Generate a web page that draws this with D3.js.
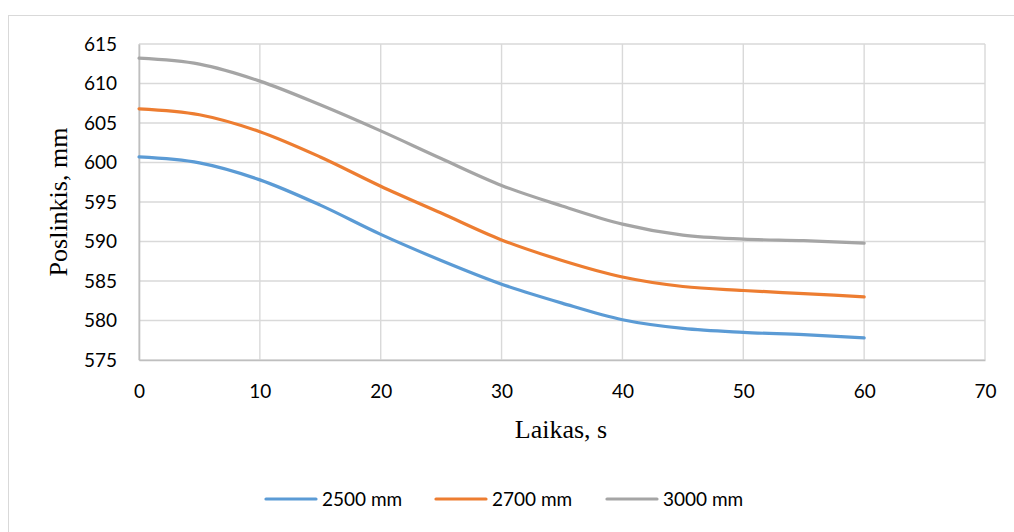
<!DOCTYPE html>
<html>
<head>
<meta charset="utf-8">
<script src="https://cdn.jsdelivr.net/npm/d3@7"></script>
<style>
  html, body { margin: 0; padding: 0; background: #fff; }
  svg { display: block; }
</style>
</head>
<body>
<svg id="chart" width="1014" height="532"></svg>
<script>
// Displacement over time for three beam lengths
const times = [0, 5, 10, 15, 20, 25, 30, 35, 40, 45, 50, 55, 60];
const s2500 = [600.7, 599.95, 597.8, 594.6, 590.9, 587.6, 584.6, 582.2, 580.1, 579.0, 578.5, 578.2, 577.8];
const s2700 = [606.8, 606.05, 603.9, 600.7, 597.0, 593.6, 590.2, 587.6, 585.5, 584.3, 583.8, 583.4, 583.0];
const s3000 = [613.2, 612.45, 610.3, 607.3, 604.0, 600.5, 597.1, 594.5, 592.2, 590.8, 590.3, 590.1, 589.8];
const seriesNames = ["2500 mm", "2700 mm", "3000 mm"];
const seriesColors = ["#5b9bd5", "#ed7d31", "#a5a5a5"];
const xTicks = [0, 10, 20, 30, 40, 50, 60, 70];
const yTicks = [575, 580, 585, 590, 595, 600, 605, 610, 615];

const svg = d3.select("#chart");
const plot = { left: 139, right: 985, top: 44, bottom: 360 };

// chart frame
svg.append("rect")
  .attr("x", 8.5).attr("y", 15.5)
  .attr("width", 1020).attr("height", 540)
  .attr("fill", "#fff").attr("stroke", "#d9d9d9").attr("stroke-width", 1);

const x = d3.scaleLinear().domain([0, 70]).range([plot.left, plot.right]);
const y = d3.scaleLinear().domain([575, 615]).range([plot.bottom, plot.top]);

const tickFont = "Lato, 'Open Sans', sans-serif";
const titleFont = "'Liberation Serif', 'Times New Roman', serif";

// gridlines
const grid = svg.append("g");
grid.selectAll("line.h").data(yTicks).join("line")
  .attr("x1", plot.left).attr("x2", plot.right)
  .attr("y1", d => y(d)).attr("y2", d => y(d))
  .attr("stroke", "#d9d9d9").attr("stroke-width", 1.4);
grid.selectAll("line.v").data(xTicks).join("line")
  .attr("y1", plot.top).attr("y2", plot.bottom)
  .attr("x1", d => x(d)).attr("x2", d => x(d))
  .attr("stroke", "#d9d9d9").attr("stroke-width", 1.4);

// axes
const xAxis = svg.append("g")
  .attr("transform", `translate(0,${plot.bottom})`)
  .call(d3.axisBottom(x).tickValues(xTicks).tickSize(0).tickPadding(25));
xAxis.select(".domain").attr("stroke", "#bfbfbf").attr("stroke-width", 1.6);
xAxis.selectAll("text").attr("font-family", tickFont).attr("font-size", 19).attr("fill", "#000");

const yAxis = svg.append("g")
  .attr("transform", `translate(${plot.left},0)`)
  .call(d3.axisLeft(y).tickValues(yTicks).tickSize(0).tickPadding(22));
yAxis.select(".domain").attr("stroke", "#bfbfbf").attr("stroke-width", 1.6);
yAxis.selectAll("text").attr("font-family", tickFont).attr("font-size", 19).attr("fill", "#000");

// series lines (smoothed)
const allSeries = [s2500, s2700, s3000];
const line = d3.line()
  .x((d, i) => x(times[i]))
  .y(d => y(d))
  .curve(d3.curveMonotoneX);

svg.append("g").selectAll("path").data(allSeries).join("path")
  .attr("d", d => line(d))
  .attr("fill", "none")
  .attr("stroke", (d, i) => seriesColors[i])
  .attr("stroke-width", 3.2)
  .attr("stroke-linecap", "round");

// axis titles
svg.append("text")
  .attr("x", 561).attr("y", 438)
  .attr("text-anchor", "middle")
  .attr("font-family", titleFont)
  .attr("font-size", 26)
  .text("Laikas, s");

svg.append("text")
  .attr("transform", `translate(67,202) rotate(-90)`)
  .attr("text-anchor", "middle")
  .attr("font-family", titleFont)
  .attr("font-size", 26)
  .text("Poslinkis, mm");

// legend
const legendX = [266, 436, 607];
const legend = svg.append("g");
seriesNames.forEach((name, i) => {
  legend.append("line")
    .attr("x1", legendX[i]).attr("x2", legendX[i] + 50)
    .attr("y1", 499).attr("y2", 499)
    .attr("stroke", seriesColors[i]).attr("stroke-width", 3.2)
    .attr("stroke-linecap", "round");
  legend.append("text")
    .attr("x", legendX[i] + 56).attr("y", 506)
    .attr("font-family", tickFont).attr("font-size", 19)
    .text(name);
});
</script>
</body>
</html>
